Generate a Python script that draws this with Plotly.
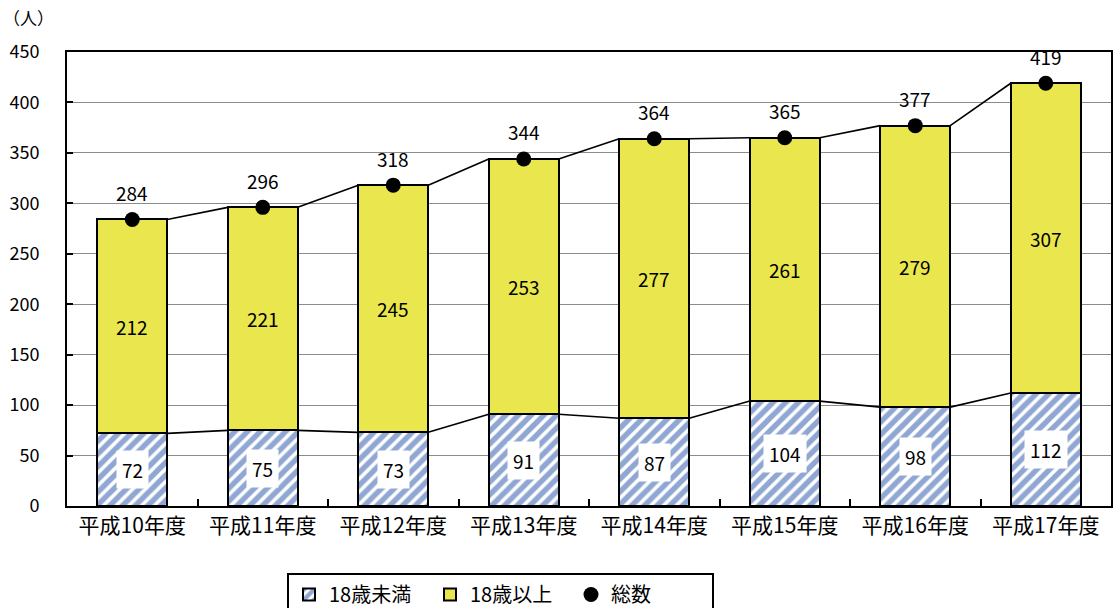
import plotly.graph_objects as go

years = ["平成10年度", "平成11年度", "平成12年度", "平成13年度",
         "平成14年度", "平成15年度", "平成16年度", "平成17年度"]
under18 = [72, 75, 73, 91, 87, 104, 98, 112]
over18 = [212, 221, 245, 253, 277, 261, 279, 307]
total = [284, 296, 318, 344, 364, 365, 377, 419]

FONT = "Noto Sans CJK JP"
BAR_W = 0.536
YELLOW = "#E9E74D"
BLUE = "#1F4FA6"

x = list(range(len(years)))

fig = go.Figure()

fig.add_trace(go.Bar(
    x=x, y=under18, name="18歳未満", width=BAR_W,
    marker=dict(color="white",
                pattern=dict(shape="/", fgcolor=BLUE, bgcolor="white",
                             size=9, solidity=0.6),
                line=dict(color="black", width=2)),
))
fig.add_trace(go.Bar(
    x=x, y=over18, name="18歳以上", width=BAR_W,
    marker=dict(color=YELLOW, line=dict(color="black", width=2)),
))


def series_lines(vals):
    lx, ly = [], []
    for i in range(len(vals) - 1):
        lx += [i + BAR_W / 2, i + 1 - BAR_W / 2, None]
        ly += [vals[i], vals[i + 1], None]
    return lx, ly


for vals in (under18, total):
    lx, ly = series_lines(vals)
    fig.add_trace(go.Scatter(x=lx, y=ly, mode="lines", showlegend=False,
                             line=dict(color="black", width=1.6),
                             hoverinfo="skip"))

fig.add_trace(go.Scatter(
    x=x, y=total, name="総数", mode="markers",
    marker=dict(color="black", size=15),
))

annotations = []
for i in x:
    annotations.append(dict(x=i, y=under18[i] / 2, text=str(under18[i]),
                            showarrow=False, bgcolor="white", borderpad=5,
                            font=dict(family=FONT, size=19, color="black")))
    annotations.append(dict(x=i, y=under18[i] + over18[i] / 2, text=str(over18[i]),
                            showarrow=False,
                            font=dict(family=FONT, size=19, color="black")))
    annotations.append(dict(x=i, y=total[i], text=str(total[i]), yshift=27,
                            showarrow=False,
                            font=dict(family=FONT, size=19, color="black")))
annotations.append(dict(x=0, y=1, xref="paper", yref="paper", text="（人）",
                        xanchor="left", yanchor="bottom", xshift=-66, yshift=20,
                        showarrow=False,
                        font=dict(family=FONT, size=17, color="black")))

fig.update_layout(
    width=1115, height=608,
    margin=dict(l=67, r=4, t=52, b=102, autoexpand=False),
    plot_bgcolor="white", paper_bgcolor="white",
    barmode="stack", bargap=0,
    font=dict(family=FONT, size=18, color="black"),
    annotations=annotations,
    showlegend=True,
    legend=dict(orientation="h", x=287 / 1115, y=1 - 573 / 608,
                xref="container", yref="container",
                xanchor="left", yanchor="top",
                bordercolor="black", borderwidth=2, bgcolor="white",
                entrywidth=96, entrywidthmode="pixels",
                font=dict(family=FONT, size=20), itemwidth=30,
                traceorder="normal"),
    xaxis=dict(range=[-0.5, len(years) - 0.5], tickmode="array", tickvals=x,
               ticktext=years, ticks="", showgrid=False, zeroline=False,
               showline=True, linecolor="black", linewidth=2, mirror=True,
               tickfont=dict(family=FONT, size=21)),
    xaxis2=dict(range=[-0.5, len(years) - 0.5], overlaying="x", side="bottom",
                tickmode="array", tickvals=[i + 0.5 for i in x[:-1]],
                ticks="inside", ticklen=7, tickwidth=2, tickcolor="black",
                showticklabels=False, showgrid=False, zeroline=False,
                showline=False),
    yaxis=dict(range=[0, 450], tickmode="array", tickvals=list(range(0, 451, 50)),
               ticks="inside", ticklen=6, tickwidth=2, tickcolor="black",
               showgrid=True, gridcolor="#8c8c8c", gridwidth=1,
               zeroline=False, showline=True, linecolor="black", linewidth=2,
               mirror=True, ticklabelstandoff=22,
               tickfont=dict(family=FONT, size=18)),
)

# invisible trace anchoring the secondary x axis for boundary ticks
fig.add_trace(go.Scatter(x=[0], y=[0], xaxis="x2", mode="markers",
                         marker=dict(opacity=0), showlegend=False,
                         hoverinfo="skip"))

fig.write_html("out.html")
